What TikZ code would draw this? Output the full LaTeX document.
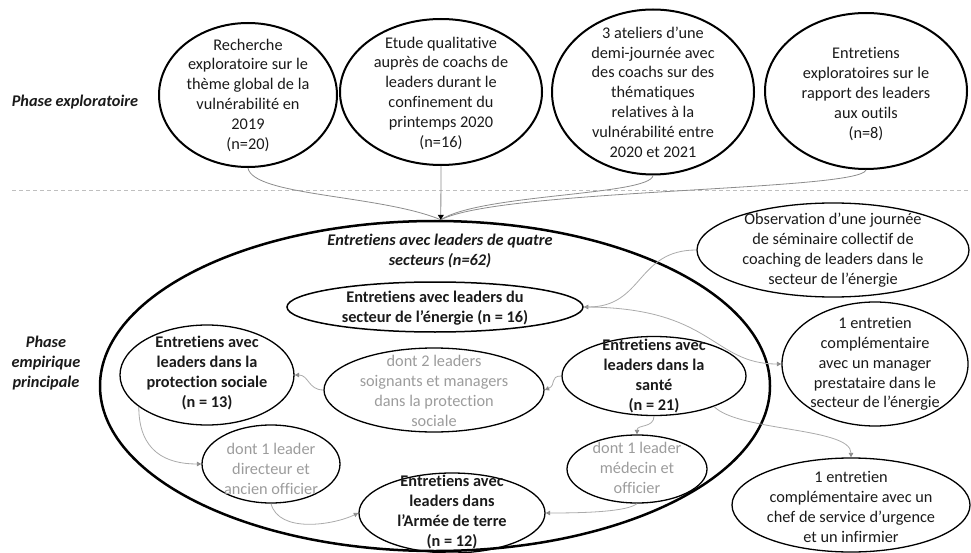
\documentclass[tikz,border=0pt]{standalone}
\usepackage{fontspec}
\setmainfont{Carlito}[Ligatures=NoCommon]
\usetikzlibrary{shapes.geometric,arrows.meta}
\definecolor{ink}{HTML}{1A1A1A}
\definecolor{note}{HTML}{9C9C9C}
\definecolor{wire}{HTML}{ABABAB}
\definecolor{wiredark}{HTML}{8C8C8C}
\definecolor{sep}{HTML}{BFBFBF}

\begin{document}
\begin{tikzpicture}[x=1pt,y=-1pt,
  every node/.style={font=\fontsize{16.3}{19.8}\selectfont, text=ink},
  oval/.style={ellipse, draw=black, line width=1.3pt, inner sep=0pt},
  topoval/.style={oval, line width=2pt},
  txt/.style={align=center, inner sep=0pt},
  strong/.style={txt, font=\fontsize{16.3}{19.8}\selectfont\bfseries},
  faint/.style={txt, text=note},
  phase/.style={txt, font=\fontsize{16.3}{20}\selectfont\bfseries\itshape},
  link/.style={draw=wire, line width=0.8pt, -{Triangle[length=4.5pt,width=4.5pt,color=wiredark]}},
  feed/.style={draw=wiredark, line width=0.8pt}
]
\useasboundingbox (0,0) rectangle (971,553);

% separator between the two phases
\draw[sep, dash pattern=on 4pt off 3pt, line width=0.8pt] (12,190) -- (971,190);

% phase labels
\node[phase] (ph1) at (75,102) {Phase exploratoire};
\node[phase] (ph2) at (46,363) {Phase\\empirique\\principale};

% exploratory studies
\node[topoval, minimum width=178pt, minimum height=144pt] (ex1) at (248,95) {};
\node[txt] (ex1t) at (ex1) {Recherche\\exploratoire sur le\\thème global de la\\vulnérabilité en\\2019\\(n=20)};
\node[topoval, minimum width=202pt, minimum height=146pt] (ex2) at (441,92) {};
\node[txt] (ex2t) at (441,93) {Etude qualitative\\auprès de coachs de\\leaders durant le\\confinement du\\printemps 2020\\(n=16)};
\node[topoval, minimum width=202pt, minimum height=165pt] (ex3) at (653,92) {};
\node[txt] (ex3t) at (ex3) {3 ateliers d’une\\demi-journée avec\\des coachs sur des\\thématiques\\relatives à la\\vulnérabilité entre\\2020 et 2021};
\node[topoval, minimum width=202pt, minimum height=156pt] (ex4) at (866,91) {};
\node[txt] (ex4t) at (866,94) {Entretiens\\exploratoires sur le\\rapport des leaders\\aux outils\\(n=8)};

% main empirical phase
\node[oval, line width=2.5pt, minimum width=670pt, minimum height=330pt] (big) at (435,386) {};
\coordinate (j) at (big.88);
\node[phase] (bigt) at (440,251) {Entretiens avec leaders de quatre\\secteurs (n=62)};

\node[oval, line width=1.5pt, minimum width=296pt, minimum height=50pt] (en) at (435,307) {};
\node[strong] (ent) at (435,308) {Entretiens avec leaders du\\secteur de l’énergie (n = 16)};

\node[oval, minimum width=174pt, minimum height=100pt] (pro) at (207,375) {};
\node[strong] (prot) at (207,373) {Entretiens avec\\leaders dans la\\protection sociale\\(n = 13)};

\node[oval, minimum width=220pt, minimum height=84pt] (dont2) at (434,390) {};
\node[faint] (dont2t) at (434,391) {dont 2 leaders\\soignants et managers\\dans la protection\\sociale};

\node[oval, minimum width=184pt, minimum height=79pt] (san) at (654,376) {};
\node[strong] (sant) at (654,376) {Entretiens avec\\leaders dans la\\santé\\(n = 21)};

\node[oval, minimum width=138pt, minimum height=78pt] (dir) at (271,464) {};
\node[faint] (dirt) at (271,469) {dont 1 leader\\directeur et\\ancien officier};

\node[oval, minimum width=140pt, minimum height=68pt] (med) at (637,469) {};
\node[faint] (medt) at (637,468) {dont 1 leader\\médecin et\\officier};

\node[oval, minimum width=186pt, minimum height=80pt] (arm) at (452,513) {};
\node[strong] (armt) at (452,512) {Entretiens avec\\leaders dans\\l’Armée de terre\\(n = 12)};

% complementary material
\node[oval, minimum width=272pt, minimum height=94pt] (obs) at (833,250) {};
\node[txt] (obst) at (obs) {Observation d’une journée\\de séminaire collectif de\\coaching de leaders dans le\\secteur de l’énergie};
\node[oval, minimum width=186pt, minimum height=124pt] (mgr) at (875,364) {};
\node[txt] (mgrt) at (mgr) {1 entretien\\complémentaire\\avec un manager\\prestataire dans le\\secteur de l’énergie};
\node[oval, minimum width=238pt, minimum height=94pt] (chef) at (851,505) {};
\node[txt] (cheft) at (851,507) {1 entretien\\complémentaire avec un\\chef de service d’urgence\\et un infirmier};

% exploratory studies feeding the main phase
\draw[feed] (ex1.south) .. controls +(5,28) and +(-60,-25) .. (j);
\draw[feed] (ex3.south) .. controls +(-3,20) and +(40,-26) .. (j);
\draw[feed] (ex4.south) .. controls +(-6,21) and +(60,-31) .. (j);
\draw[feed, -{Triangle[length=5pt,width=6pt,color=black]}] (ex2.south) -- (j);

% links between interview groups
\draw[link] (obs.west) .. controls +(-60,0) and +(60,0) .. (en.east);
\draw[link] (en.east) .. controls +(130,0) and +(-70,0) .. (mgr.west);
\draw[link] (san.west) .. controls +(-12,0) and +(12,-5) .. (dont2.east);
\draw[link] (dont2.west) .. controls +(-15,0) and +(14,0) .. (pro.east);
\draw[link] (pro.205) .. controls +(0,45) and +(-35,0) .. (dir.west);
\draw[link] (dir.south) .. controls +(8,30) and +(-25,12) .. (arm.west);
\draw[link] (san.south) .. controls +(0,12) and +(0,-10) .. (med.north);
\draw[link] (med.south) .. controls +(-10,8) and +(40,0) .. (arm.east);
\draw[link] (san.-27) .. controls +(25,25) and +(0,-30) .. (chef.north);
\end{tikzpicture}
\end{document}
